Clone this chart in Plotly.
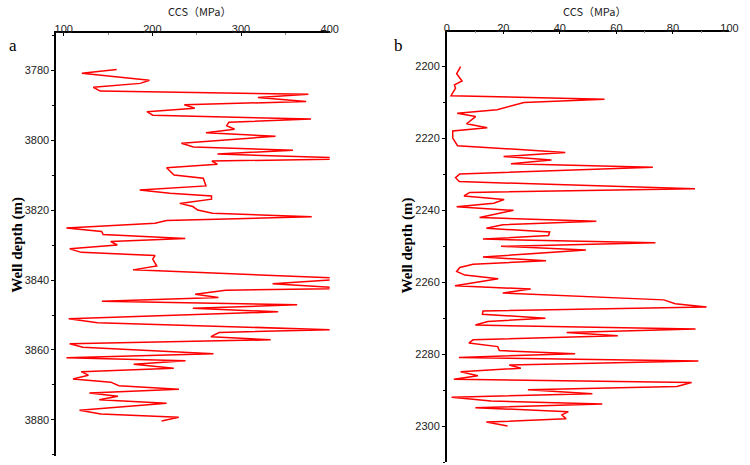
import plotly.graph_objects as go

# Panel a
depth_a = [3779.8, 3780.9, 3782.9, 3783.8, 3784.9, 3786.0, 3786.9, 3787.8, 3789.0, 3789.9,
           3790.9, 3791.9, 3792.9, 3794.0, 3794.9, 3795.9, 3796.9, 3797.9, 3798.9, 3800.9,
           3802.0, 3802.9, 3804.0, 3805.3, 3806.0, 3806.9, 3807.9, 3810.0, 3810.9, 3813.1,
           3814.3, 3815.2, 3816.0, 3816.9, 3818.1, 3819.0, 3820.0, 3820.9, 3821.9, 3823.0,
           3823.8, 3825.1, 3826.1, 3827.0, 3828.1, 3829.0, 3830.0, 3831.1, 3832.1, 3833.0,
           3834.0, 3836.0, 3837.1, 3839.6, 3841.1, 3842.4, 3842.9, 3844.1, 3845.0, 3846.1,
           3847.1, 3848.1, 3849.1, 3851.1, 3852.2, 3854.2, 3855.0, 3856.2, 3857.1, 3858.2,
           3859.2, 3861.1, 3862.2, 3863.1, 3864.1, 3865.2, 3866.2, 3867.2, 3868.3, 3869.2,
           3870.2, 3871.2, 3872.3, 3873.2, 3874.2, 3875.2, 3877.2, 3878.3, 3879.2, 3880.3]
ccs_a = [159.7, 120.4, 196.7, 186.3, 133.3, 141.1, 376.0, 319.0, 373.4, 236.0,
         247.8, 193.8, 200.4, 378.9, 286.3, 283.8, 292.7, 260.4, 338.9, 232.7,
         246.3, 358.6, 273.4, 440.0, 267.1, 273.3, 216.0, 224.4, 257.4, 260.4,
         185.6, 219.7, 266.7, 266.7, 230.8, 245.6, 251.1, 267.8, 379.7, 216.0,
         203.0, 103.0, 142.7, 144.4, 237.1, 153.0, 160.4, 106.7, 119.7, 203.0,
         200.4, 204.9, 178.2, 425.0, 335.6, 425.0, 282.6, 248.2, 274.5, 143.0,
         363.3, 245.6, 341.9, 105.6, 138.2, 402.0, 275.2, 266.0, 333.4, 106.7,
         121.6, 268.9, 103.0, 237.4, 178.9, 224.1, 119.7, 127.8, 110.4, 153.0,
         162.2, 230.0, 128.9, 161.1, 140.0, 216.0, 117.8, 141.9, 229.7, 210.4]

# Panel b
depth_b = [2200.0, 2202.0, 2204.0, 2205.1, 2206.0, 2208.1, 2209.1, 2210.0, 2212.0, 2213.0,
           2213.9, 2215.9, 2217.0, 2217.9, 2219.9, 2222.0, 2223.9, 2225.0, 2226.0, 2227.0,
           2228.0, 2229.9, 2230.9, 2232.0, 2234.0, 2235.0, 2236.0, 2237.0, 2238.0, 2239.0,
           2240.0, 2242.0, 2243.0, 2244.0, 2245.0, 2246.0, 2247.0, 2248.0, 2249.0, 2250.0,
           2251.0, 2253.0, 2254.0, 2255.0, 2255.9, 2257.0, 2258.0, 2259.0, 2261.0, 2261.9,
           2263.0, 2264.9, 2266.0, 2266.9, 2268.0, 2268.9, 2270.0, 2270.9, 2271.9, 2273.0,
           2274.0, 2274.9, 2276.0, 2276.9, 2277.9, 2279.0, 2279.9, 2280.9, 2281.9, 2283.0,
           2283.9, 2284.9, 2286.0, 2287.0, 2287.9, 2289.0, 2289.9, 2291.0, 2292.0, 2293.0,
           2293.9, 2294.9, 2296.0, 2296.9, 2298.0, 2298.9, 2300.0]
ccs_b = [4.9, 3.5, 5.4, 2.7, 3.1, 1.5, 55.8, 27.3, 17.8, 3.7,
         10.2, 7.0, 14.3, 2.1, 2.1, 3.8, 41.9, 20.1, 37.0, 22.7,
         72.9, 4.6, 3.1, 4.4, 87.8, 8.1, 6.1, 20.3, 16.6, 3.5,
         23.6, 11.6, 52.9, 19.8, 14.0, 36.4, 36.0, 12.8, 73.8, 19.2,
         49.2, 12.8, 35.1, 9.3, 4.6, 3.5, 6.4, 18.2, 2.9, 29.7,
         19.8, 76.8, 80.8, 91.9, 12.8, 12.6, 34.9, 14.5, 10.1, 88.0,
         42.4, 60.5, 9.3, 7.8, 18.0, 18.6, 45.4, 4.3, 89.0, 22.1,
         26.2, 4.9, 11.0, 2.5, 86.6, 81.4, 28.7, 51.5, 1.7, 15.7,
         55.0, 10.1, 43.0, 40.7, 42.2, 14.0, 21.5]

W, H = 750, 465
fig = go.Figure()
fig.add_trace(go.Scatter(x=ccs_a, y=depth_a, mode="lines", xaxis="x", yaxis="y",
                         line=dict(color="#ff0000", width=1.5), showlegend=False))
fig.add_trace(go.Scatter(x=ccs_b, y=depth_b, mode="lines", xaxis="x2", yaxis="y2",
                         line=dict(color="#ff0000", width=1.5), showlegend=False))

tickfont = dict(family="Liberation Sans, Arial", size=11, color="#222222")
base = dict(showline=True, linecolor="black", linewidth=1.5, tickwidth=1,
            tickcolor="black", showgrid=False, zeroline=False, tickfont=tickfont, mirror=False)
xcommon = dict(ticks="inside", ticklen=3, ticklabelstandoff=-6, **base)
ycommon = dict(ticks="outside", ticklen=3, **base)

fig.update_layout(
    width=W, height=H, margin=dict(l=0, r=0, t=0, b=0),
    plot_bgcolor="white", paper_bgcolor="white",
    xaxis=dict(domain=[54/W, 332/W], range=[91.4, 400], side="top", anchor="y",
               tickvals=[100, 200, 300, 400],
               minor=dict(dtick=50, tick0=0, ticklen=2, ticks="inside", tickcolor="#888888"),
               **xcommon),
    yaxis=dict(domain=[1-456/H, 1-33/H], range=[3890.3, 3769.4], anchor="x",
               dtick=20, tick0=3780,
               minor=dict(dtick=10, tick0=0, ticklen=2, ticks="outside", tickcolor="black"),
               **ycommon),
    xaxis2=dict(domain=[451/W, 738.3/W], range=[0, 100], side="top", anchor="y2",
                dtick=20, tick0=0,
                minor=dict(dtick=10, tick0=0, ticklen=2, ticks="inside", tickcolor="#888888"),
                **xcommon),
    yaxis2=dict(domain=[1-462/H, 1-31.7/H], range=[2310, 2190.3], anchor="x2",
                dtick=20, tick0=2200,
                minor=dict(dtick=10, tick0=0, ticklen=2, ticks="outside", tickcolor="black"),
                **ycommon),
)

title_font = dict(family="Noto Sans CJK SC, Liberation Sans", size=11, color="#222222")
label_font = dict(family="Liberation Serif, Times New Roman", size=15, color="black")
ann = [
    dict(x=200/W, y=1-11/H, text="CCS（MPa）", font=title_font),
    dict(x=602/W, y=1-11/H, text="CCS（MPa）", font=title_font),
    dict(x=14/W, y=1-245/H, text="<b>Well depth (m)</b>", font=label_font, textangle=-90),
    dict(x=411/W, y=1-245/H, text="<b>Well depth (m)</b>", font=label_font, textangle=-90),
    dict(x=10/W, y=1-45/H, text="a", font=dict(family="Liberation Serif", size=17, color="black")),
    dict(x=402/W, y=1-45/H, text="b", font=dict(family="Liberation Serif", size=17, color="black")),
]
for a in ann:
    a.update(xref="paper", yref="paper", showarrow=False, xanchor="center", yanchor="middle")
fig.update_layout(annotations=ann)

fig.write_html("out.html")
